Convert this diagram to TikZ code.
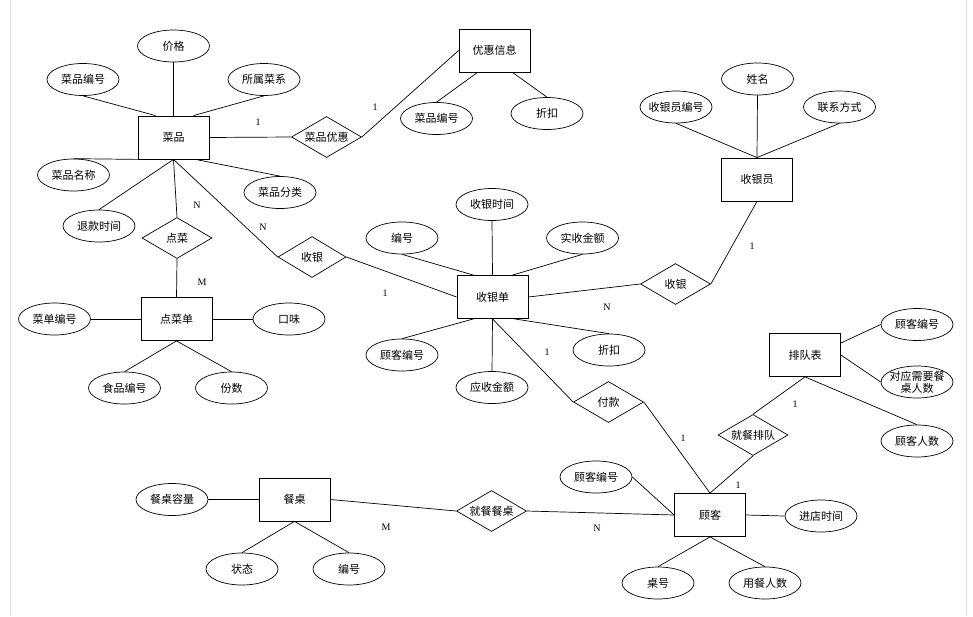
\documentclass[tikz,border=0pt]{standalone}
\usepackage{fontspec}
\setmainfont{Liberation Serif}
\newfontfamily\cjk{Noto Sans CJK SC}
\usetikzlibrary{shapes.geometric,calc}

\begin{document}
\begin{tikzpicture}[x=1pt,y=-1pt,
  every node/.style={font=\cjk\fontsize{11}{13}\selectfont},
  ent/.style={draw, line width=0.8pt, minimum width=71pt, minimum height=43pt, inner sep=0pt},
  attr/.style={draw, ellipse, line width=0.7pt, minimum width=72pt, minimum height=32pt, inner sep=0pt},
  rel/.style={draw, diamond, shape aspect=1.7, line width=0.7pt, minimum width=70pt, minimum height=41pt, inner sep=0pt},
  card/.style={font=\rmfamily\fontsize{10}{12}\selectfont, inner sep=0pt},
  conn/.style={line width=0.7pt},
  edge/.style={black!12, line width=0.8pt}]

\useasboundingbox (0,0) rectangle (973,616);
\fill[white] (0,0) rectangle (973,616);
\draw[edge] (10,0) -- (10,616);
\draw[edge] (966,0) -- (966,616);

% entities
\node[ent] (caipin) at (173.5,137.5) {菜品};
\node[ent] (youhui) at (494.5,50.5) {优惠信息};
\node[ent] (syy) at (757,179.5) {收银员};
\node[ent] (dcd) at (176.5,319) {点菜单};
\node[ent] (syd) at (492.5,297) {收银单};
\node[ent] (pdb) at (805,355) {排队表};
\node[ent] (cz) at (294.5,499.5) {餐桌};
\node[ent] (guke) at (710,515) {顾客};

% attributes
\node[attr] (a1) at (173.5,46) {价格};
\node[attr] (a2) at (83,79.5) {菜品编号};
\node[attr] (a3) at (264,79.5) {所属菜系};
\node[attr] (a4) at (73.5,175) {菜品名称};
\node[attr] (a5) at (280,192.5) {菜品分类};
\node[attr] (a6) at (99,226) {退款时间};
\node[attr] (b1) at (436.5,118.5) {菜品编号};
\node[attr] (b2) at (547,113.5) {折扣};
\node[attr, inner xsep=-3pt] (c1) at (676,107) {收银员编号};
\node[attr] (c2) at (757.5,79) {姓名};
\node[attr] (c3) at (839.5,107) {联系方式};
\node[attr] (d1) at (54.5,319) {菜单编号};
\node[attr] (d2) at (289,319) {口味};
\node[attr] (d3) at (124.5,388) {食品编号};
\node[attr] (d4) at (231.5,388) {份数};
\node[attr] (e1) at (402,238) {编号};
\node[attr] (e2) at (492,204.5) {收银时间};
\node[attr] (e3) at (582.5,238) {实收金额};
\node[attr] (e4) at (402,355) {顾客编号};
\node[attr] (e5) at (492,387.5) {应收金额};
\node[attr] (e6) at (609,350) {折扣};
\node[attr] (f1) at (917,324.5) {顾客编号};
\node[attr, inner xsep=-4pt, inner ysep=-3pt, align=center, font=\cjk\fontsize{11}{12}\selectfont] (f2) at (917,382) {对应需要餐\\桌人数};
\node[attr] (f3) at (917,441) {顾客人数};
\node[attr] (g1) at (172,499.5) {餐桌容量};
\node[attr] (g2) at (242,569) {状态};
\node[attr] (g3) at (349,569) {编号};
\node[attr] (h1) at (596,477) {顾客编号};
\node[attr] (h2) at (821,516) {进店时间};
\node[attr] (h3) at (658,583) {桌号};
\node[attr] (h4) at (765,583) {用餐人数};

% relationships
\node[rel] (r1) at (326.5,137) {菜品优惠};
\node[rel] (r2) at (177,238) {点菜};
\node[rel, minimum width=68pt] (r3) at (312,257) {收银};
\node[rel] (r4) at (675.5,284) {收银};
\node[rel] (r5) at (608.5,402) {付款};
\node[rel] (r6) at (753,435) {就餐排队};
\node[rel] (r7) at (491.5,511) {就餐餐桌};

% connectors: 菜品
\draw[conn] (caipin.north) -- (a1.south);
\draw[conn] ($(caipin.north)+(-18,0)$) -- (a2.south);
\draw[conn] ($(caipin.north)+(20,0)$) -- (a3.south);
\draw[conn] (caipin.south west) -- (a4.north);
\draw[conn] ($(caipin.south)+(22,0)$) -- (a5.north);
\draw[conn] (caipin.south) -- (a6.north);
\draw[conn] (caipin.south) -- (r2.north);
\draw[conn] (caipin.south) -- (r3.west);
\draw[conn] (caipin.east) -- (r1.west);
\draw[conn] (r1.east) -- (youhui.west);
% 优惠信息
\draw[conn] ($(youhui.south)+(-17,0)$) -- (b1.north);
\draw[conn] ($(youhui.south)+(18,0)$) -- (b2.north);
% 收银员
\draw[conn] (syy.north) -- (c1.south);
\draw[conn] (syy.north) -- (c2.south);
\draw[conn] (syy.north) -- (c3.south);
\draw[conn] (r4.east) -- (syy.south);
% 点菜单
\draw[conn] (r2.south) -- (dcd.north);
\draw[conn] (d1.east) -- (dcd.west);
\draw[conn] (dcd.east) -- (d2.west);
\draw[conn] (dcd.south) -- (d3.north);
\draw[conn] (dcd.south) -- (d4.north);
% 收银单
\draw[conn] (r3.east) -- (syd.west);
\draw[conn] (syd.east) -- (r4.west);
\draw[conn] ($(syd.north)+(-19,0)$) -- (e1.south);
\draw[conn] (syd.north) -- (e2.south);
\draw[conn] ($(syd.north)+(20,0)$) -- (e3.south);
\draw[conn] ($(syd.south)+(-19,0)$) -- (e4.north);
\draw[conn] (syd.south) -- (e5.north);
\draw[conn] ($(syd.south)+(22,0)$) -- (e6.north);
\draw[conn] (syd.south) -- (r5.west);
\draw[conn] (r5.east) -- (guke.north);
% 排队表
\draw[conn] ($(pdb.east)+(0,-12)$) -- (f1.west);
\draw[conn] (pdb.east) -- (f2.west);
\draw[conn] (pdb.south) -- (f3.north);
\draw[conn] (pdb.south) -- (r6.north);
\draw[conn] (r6.south) -- (guke.north);
% 餐桌
\draw[conn] (g1.east) -- (cz.west);
\draw[conn] (cz.east) -- (r7.west);
\draw[conn] (r7.east) -- (guke.west);
\draw[conn] (cz.south) -- (g2.north);
\draw[conn] (cz.south) -- (g3.north);
% 顾客
\draw[conn] (h1.east) -- (guke.west);
\draw[conn] (guke.east) -- (h2.west);
\draw[conn] (guke.south) -- (h3.north);
\draw[conn] (guke.south) -- (h4.north);

% cardinalities
\node[card] (k1) at (258,122) {1};
\node[card] (k2) at (375,107) {1};
\node[card] (k3) at (197,205) {N};
\node[card] (k4) at (263,227) {N};
\node[card] (k5) at (202,282) {M};
\node[card] (k6) at (385,293) {1};
\node[card] (k7) at (607,307) {N};
\node[card] (k8) at (752,246) {1};
\node[card] (k9) at (547,352) {1};
\node[card] (k10) at (795,404) {1};
\node[card] (k11) at (683,438) {1};
\node[card] (k12) at (738,485) {1};
\node[card] (k13) at (386,527) {M};
\node[card] (k14) at (597,528) {N};
\end{tikzpicture}
\end{document}
